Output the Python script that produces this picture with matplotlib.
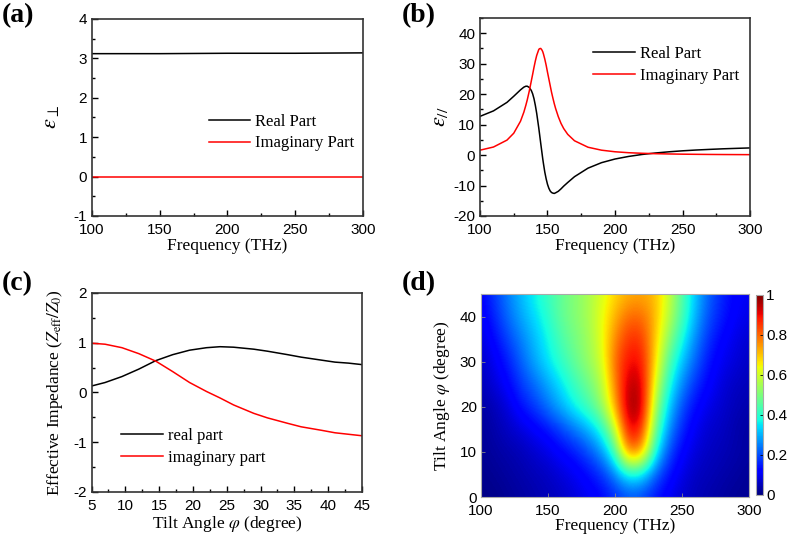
import numpy as np
import matplotlib
matplotlib.use("Agg")
from matplotlib import pyplot as plt
from matplotlib.ticker import MultipleLocator

plt.rcParams['mathtext.fontset'] = 'stix'
plt.rcParams['axes.unicode_minus'] = False

SANS = 'Liberation Sans'
SERIF = 'Liberation Serif'

# (a) perpendicular permittivity
freq_a = [100, 150, 200, 250, 300]
eps_perp_re = [3.12, 3.12, 3.13, 3.13, 3.14]
eps_perp_im = [0.0, 0.0, 0.0, 0.0, 0.0]

# (b) parallel permittivity
freq_b = [100, 110, 120, 125, 130, 132.5, 134, 135, 136.5, 138, 139, 140, 141, 142,
          143.5, 144, 145, 146, 146.5, 147, 148, 149, 150, 151, 152, 153, 154, 155,
          156, 158, 160, 162, 165, 170, 180, 190, 200, 210, 220, 230, 240, 250,
          260, 270, 280, 290, 300]
eps_par_re = [12.7, 14.5, 17.3, 19.3, 21.4, 22.3, 22.6, 22.6, 22.2, 21.2, 20.1, 18.5, 16.3, 13.7,
              9.0, 7.3, 3.8, 0.4, -1.3, -2.8, -5.6, -7.8, -9.6, -10.9, -11.8, -12.3, -12.5, -12.6,
              -12.4, -11.9, -11.1, -10.2, -9.0, -7.1, -4.3, -2.5, -1.3, -0.46, 0.19, 0.68, 1.07, 1.39,
              1.65, 1.86, 2.05, 2.20, 2.34]
eps_par_im = [1.6, 2.64, 4.91, 7.17, 11.1, 14.1, 16.4, 18.1, 21.0, 24.3, 26.5, 28.8, 30.9, 32.7,
              34.6, 34.9, 35.0, 34.4, 33.9, 33.2, 31.5, 29.5, 27.2, 25.0, 22.8, 20.6, 18.7, 16.9,
              15.3, 12.6, 10.4, 8.7, 6.79, 4.69, 2.57, 1.60, 1.08, 0.77, 0.58, 0.45, 0.36, 0.29,
              0.24, 0.20, 0.17, 0.15, 0.13]

# (c) effective impedance vs tilt angle
tilt_c = [5, 7, 9.5, 12, 14.5, 17, 19.5, 22, 24, 26, 29, 31, 34, 36, 39, 41, 43, 45]
z_re = [0.13, 0.20, 0.32, 0.47, 0.64, 0.76, 0.85, 0.90, 0.92, 0.91, 0.87, 0.83, 0.76, 0.71,
        0.65, 0.61, 0.59, 0.56]
z_im = [0.99, 0.97, 0.90, 0.78, 0.63, 0.42, 0.20, 0.02, -0.11, -0.25, -0.42, -0.51, -0.62,
        -0.69, -0.76, -0.81, -0.84, -0.87]

# (d) map: rows = tilt angle 0..45 step 5, columns = frequency 100..300 step 10
freq_d = list(range(100, 301, 10))
tilt_d = list(range(0, 46, 5))
absorb = [
    [0.01, 0.01, 0.02, 0.03, 0.04, 0.05, 0.06, 0.08, 0.10, 0.12, 0.16, 0.20, 0.19, 0.14, 0.10, 0.07, 0.05, 0.04, 0.03, 0.02, 0.02],
    [0.01, 0.02, 0.03, 0.04, 0.05, 0.06, 0.08, 0.10, 0.13, 0.17, 0.25, 0.36, 0.34, 0.22, 0.14, 0.09, 0.06, 0.05, 0.04, 0.03, 0.02],
    [0.02, 0.03, 0.04, 0.05, 0.07, 0.09, 0.12, 0.15, 0.20, 0.27, 0.42, 0.80, 0.75, 0.38, 0.20, 0.12, 0.08, 0.06, 0.05, 0.04, 0.03],
    [0.02, 0.04, 0.06, 0.08, 0.11, 0.14, 0.19, 0.24, 0.30, 0.38, 0.58, 0.92, 0.88, 0.48, 0.27, 0.16, 0.10, 0.07, 0.06, 0.04, 0.03],
    [0.03, 0.05, 0.08, 0.14, 0.18, 0.24, 0.30, 0.37, 0.43, 0.52, 0.72, 0.98, 0.96, 0.55, 0.33, 0.20, 0.13, 0.09, 0.07, 0.05, 0.04],
    [0.05, 0.08, 0.12, 0.18, 0.23, 0.29, 0.35, 0.42, 0.48, 0.56, 0.77, 0.95, 0.94, 0.62, 0.39, 0.26, 0.17, 0.12, 0.08, 0.06, 0.05],
    [0.06, 0.10, 0.15, 0.22, 0.29, 0.35, 0.41, 0.47, 0.53, 0.60, 0.80, 0.90, 0.90, 0.68, 0.45, 0.32, 0.22, 0.14, 0.10, 0.08, 0.06],
    [0.08, 0.13, 0.19, 0.25, 0.31, 0.37, 0.44, 0.49, 0.54, 0.62, 0.77, 0.86, 0.86, 0.70, 0.52, 0.38, 0.26, 0.17, 0.12, 0.09, 0.07],
    [0.10, 0.16, 0.23, 0.29, 0.34, 0.40, 0.47, 0.51, 0.55, 0.63, 0.72, 0.80, 0.80, 0.72, 0.58, 0.44, 0.30, 0.20, 0.15, 0.11, 0.09],
    [0.12, 0.18, 0.25, 0.31, 0.37, 0.42, 0.47, 0.51, 0.55, 0.61, 0.68, 0.72, 0.73, 0.71, 0.60, 0.45, 0.32, 0.22, 0.16, 0.12, 0.10],
]


def style_origin(ax, xmaj, xmin, ymaj, ymin):
    ax.xaxis.set_major_locator(MultipleLocator(xmaj))
    ax.xaxis.set_minor_locator(MultipleLocator(xmin))
    ax.yaxis.set_major_locator(MultipleLocator(ymaj))
    ax.yaxis.set_minor_locator(MultipleLocator(ymin))
    ax.tick_params(which='both', direction='in', top=False, right=False)
    ax.tick_params(which='major', length=4, width=1)
    ax.tick_params(which='minor', length=2.5, width=1)
    ax.tick_params(axis='x', pad=5)
    for lab in ax.get_xticklabels() + ax.get_yticklabels():
        lab.set_fontfamily(SANS)
        lab.set_fontsize(11)
    for s in ax.spines.values():
        s.set_linewidth(1.2)
        s.set_color('#333333')


def legend(ax, x, y):
    ax.legend(loc='upper left', bbox_to_anchor=(x, y), frameon=False,
              prop={'family': SERIF, 'size': 12}, handlelength=2.5,
              handletextpad=0.3, borderpad=0, borderaxespad=0, labelspacing=0.35)


fig = plt.figure(figsize=(7.87, 5.35), dpi=100)

# (a)
ax = fig.add_axes([0.1169, 0.5963, 0.3443, 0.3682])
ax.plot(freq_a, eps_perp_re, color='black', lw=1.1, label='Real Part')
ax.plot(freq_a, eps_perp_im, color='red', lw=1.1, label='Imaginary Part')
ax.set_xlim(100, 300)
ax.set_ylim(-1, 4)
style_origin(ax, 50, 25, 1, 0.5)
ax.set_xlabel('Frequency (THz)', family=SERIF, fontsize=12.5, labelpad=1)
ax.set_ylabel(r'$\varepsilon_{\perp}$', fontsize=16, labelpad=9)
legend(ax, 0.43, 0.52)

# (b)
ax = fig.add_axes([0.6099, 0.5963, 0.3431, 0.3701])
ax.plot(freq_b, eps_par_re, color='black', lw=1.1, label='Real Part')
ax.plot(freq_b, eps_par_im, color='red', lw=1.1, label='Imaginary Part')
ax.set_xlim(100, 300)
ax.set_ylim(-20, 45)
style_origin(ax, 50, 25, 10, 5)
ax.set_xlabel('Frequency (THz)', family=SERIF, fontsize=12.5, labelpad=1)
ax.set_ylabel(r'$\varepsilon_{//}$', fontsize=16, labelpad=2)
legend(ax, 0.42, 0.86)

# (c)
ax = fig.add_axes([0.1163, 0.0804, 0.3437, 0.3720])
ax.plot(tilt_c, z_re, color='black', lw=1.1, label='real part')
ax.plot(tilt_c, z_im, color='red', lw=1.1, label='imaginary part')
ax.set_xlim(5, 45)
ax.set_ylim(-2, 2)
style_origin(ax, 5, 2.5, 1, 0.5)
ax.set_xlabel(r'Tilt Angle $\varphi$ (degree)', family=SERIF, fontsize=12.5, labelpad=1)
ax.set_ylabel(r'Effective Impedance ($Z_{\mathrm{eff}}/Z_0$)', family=SERIF, fontsize=12.5, labelpad=6)
legend(ax, 0.11, 0.32)

# (d)
ax = fig.add_axes([0.6112, 0.0710, 0.3405, 0.3794])
im = ax.imshow(np.array(absorb), origin='lower', aspect='auto', cmap='jet',
               extent=[95, 305, -2.5, 47.5], interpolation='bicubic', vmin=0, vmax=1)
ax.set_xlim(100, 300)
ax.set_ylim(0, 45)
ax.set_xticks([100, 150, 200, 250, 300])
ax.set_yticks([0, 10, 20, 30, 40])
ax.tick_params(direction='in', length=3, width=0.6, color='#888888', pad=2, labelsize=11)
ax.tick_params(axis='y', pad=3)
ax.tick_params(axis='x', pad=5)
for lab in ax.get_xticklabels() + ax.get_yticklabels():
    lab.set_fontfamily(SANS)
for s in ax.spines.values():
    s.set_linewidth(0.8)
    s.set_color('#aaaaaa')
ax.set_xlabel('Frequency (THz)', family=SERIF, fontsize=12.5, labelpad=0)
ax.set_ylabel(r'Tilt Angle $\varphi$ (degree)', family=SERIF, fontsize=12.5, labelpad=6)

cax = fig.add_axes([0.9606, 0.0748, 0.0095, 0.3738])
cb = fig.colorbar(im, cax=cax, ticks=[0, 0.2, 0.4, 0.6, 0.8, 1])
cb.ax.set_yticklabels(['0', '0.2', '0.4', '0.6', '0.8', '1'])
cb.ax.tick_params(direction='in', length=2, width=0.6, pad=2, labelsize=11)
for lab in cb.ax.get_yticklabels():
    lab.set_fontfamily(SANS)
cb.outline.set_edgecolor('#aaaaaa')
cb.outline.set_linewidth(0.8)

# panel letters
for txt, x, y in [('(a)', 2, 3), ('(b)', 402, 3), ('(c)', 2, 271), ('(d)', 402, 271)]:
    fig.text(x / 787, 1 - y / 535, txt, family=SERIF, fontweight='bold',
             fontsize=20, ha='left', va='top')

fig.savefig('out.png', dpi=100)
